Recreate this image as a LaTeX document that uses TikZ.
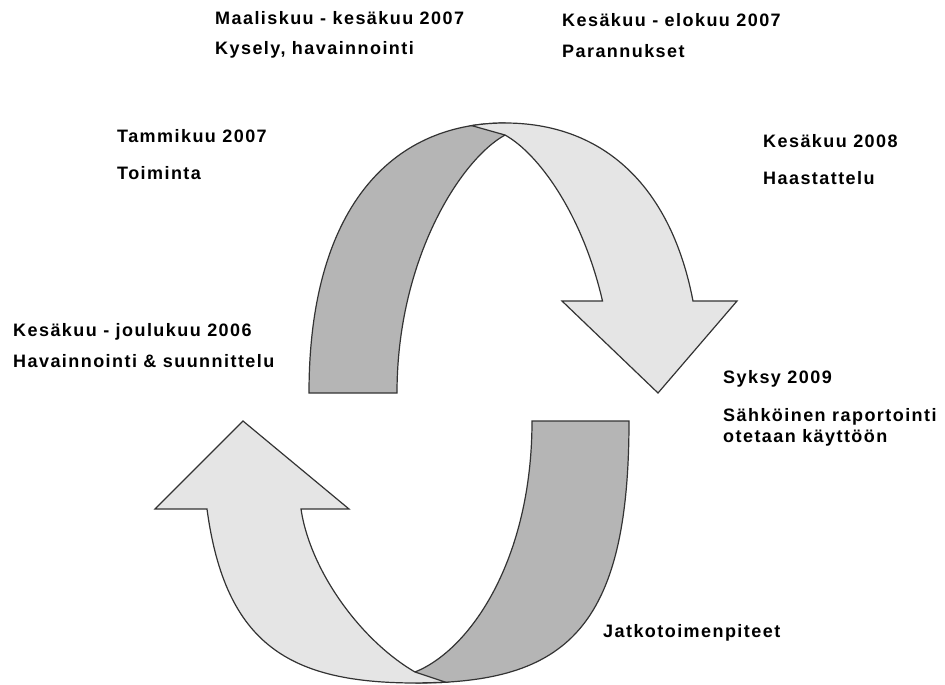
\documentclass[tikz,border=0pt]{standalone}
\usepackage{fontspec}
\setmainfont{Liberation Sans}[LetterSpace=8]
\begin{document}
\begin{tikzpicture}[x=1pt,y=-1pt,
  lbl/.style={anchor=base west, inner sep=0pt, font=\fontsize{18}{21}\selectfont\bfseries},
  band/.style={draw=black!80, line width=1.2pt, line join=miter},
  backface/.style={band, fill=black!29},
  frontface/.style={band, fill=black!10}]
\useasboundingbox (0,0) rectangle (945,685);

% upper ribbon: back face (dark) rising on the left
\path[backface] (309,393) .. controls (309,210) and (390,123) .. (505,123)
  -- (505,135) .. controls (460,160) and (397,260) .. (397,393) -- cycle;
% upper ribbon: front face (light) with the head pointing down
\path[frontface] (471.6,125.6) .. controls (482.3,123.9) and (493.5,123) .. (505,123)
  .. controls (598.7,123) and (669.9,180.8) .. (693,301)
  -- (737,301) -- (658,393) -- (562,301) -- (602.5,301)
  .. controls (582.6,214.7) and (538.75,153.75) .. (505,135) -- cycle;

% lower ribbon: back face (dark) descending on the right
\path[backface] (532,421) -- (629,421) .. controls (629,630) and (565,683) .. (416,683)
  -- (415,672) .. controls (470,650) and (532,560) .. (532,421) -- cycle;
% lower ribbon: front face (light) with the head pointing up
\path[frontface] (446,682.3) -- (415,672) .. controls (360,640) and (310,570) .. (301,509)
  -- (349,509) -- (243,421) -- (155,509) -- (207,509)
  .. controls (225.3,645.4) and (290.5,683) .. (416,683) -- cycle;

% phase labels
\node[lbl] (mar) at (215,25)  {Maaliskuu - kesäkuu 2007};
\node[lbl] (kys) at (215,55)  {Kysely, havainnointi};
\node[lbl] (kel) at (562,27)  {Kesäkuu - elokuu 2007};
\node[lbl] (par) at (562,58)  {Parannukset};
\node[lbl] (tam) at (117,142) {Tammikuu 2007};
\node[lbl] (toi) at (117,179) {Toiminta};
\node[lbl] (k08) at (763,147) {Kesäkuu 2008};
\node[lbl] (haa) at (763,184) {Haastattelu};
\node[lbl] (k06) at (13,336)  {Kesäkuu - joulukuu 2006};
\node[lbl] (hav) at (13,367)  {Havainnointi \& suunnittelu};
\node[lbl] (syk) at (723,383) {Syksy 2009};
\node[lbl] (sah) at (723,421) {Sähköinen raportointi};
\node[lbl] (ote) at (723,442) {otetaan käyttöön};
\node[lbl] (jat) at (603,637) {Jatkotoimenpiteet};
\end{tikzpicture}
\end{document}
